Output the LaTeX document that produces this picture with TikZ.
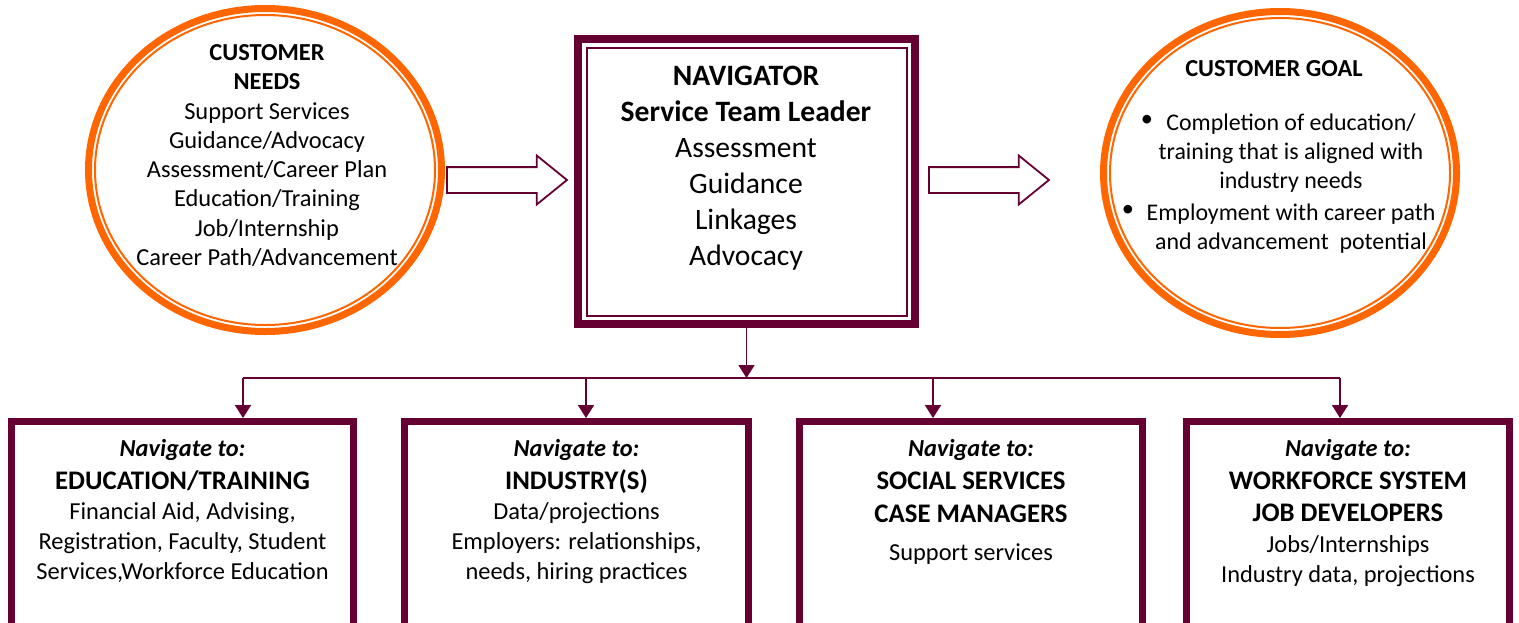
\documentclass[tikz,border=0pt]{standalone}
\usepackage{fontspec}
\setmainfont{Carlito}
\usepackage{tikz}
\usetikzlibrary{arrows.meta, positioning, shapes.geometric, shapes.arrows}
\definecolor{navmaroon}{RGB}{102, 0, 51}
\definecolor{ringorange}{RGB}{255, 102, 0}

\newcommand{\navto}{{\bfseries\itshape Navigate to:}}
\newcommand{\desthead}[1]{{\fontsize{13.4}{15}\selectfont\bfseries #1}}

\begin{document}
\begin{tikzpicture}[
			x=0.5pt, y=-0.5pt,
			ringouter/.style={ellipse, draw=ringorange, line width=3.5pt, inner sep=0pt, minimum width=176.5pt, minimum height=161.5pt},
			ringinner/.style={ellipse, draw=ringorange, line width=1pt, inner sep=0pt, minimum width=170pt, minimum height=155pt},
			navouter/.style={rectangle, draw=navmaroon, line width=4pt, inner sep=0pt, minimum width=168.5pt, minimum height=142.5pt},
			navinner/.style={rectangle, draw=navmaroon, line width=1pt, inner sep=0pt, minimum width=160pt, minimum height=134pt},
			dest/.style={rectangle, draw=navmaroon, line width=3.5pt, inner sep=0pt, minimum height=150pt, anchor=north},
			blockarrow/.style={single arrow, draw=navmaroon, fill=white, line width=0.9pt, inner xsep=0pt, inner ysep=6pt, minimum height=60pt, single arrow head extend=5.75pt, single arrow tip angle=78},
			arrow/.style={-{Triangle[length=6.5pt, width=8pt]}, draw=navmaroon, line width=0.9pt},
			plain/.style={align=center, inner sep=0pt, font=\fontsize{12.2}{14.65}\selectfont},
			desttext/.style={align=center, inner sep=0pt, font=\fontsize{12.2}{15}\selectfont}
		]
		\useasboundingbox (0,0) rectangle (1519,622);
		\clip (0,0) rectangle (1519,622);
		\fill[white] (0,0) rectangle (1519,622);

		% customer needs
		\node[ringouter] (needs) at (265,170) {};
		\node[ringinner] (needsInner) at (needs.center) {};
		\node[plain, anchor=north] (needsText) at (267,44) {\textbf{CUSTOMER}\\\textbf{NEEDS}\\Support Services\\Guidance/Advocacy\\Assessment/Career Plan\\Education/Training\\Job/Internship\\Career Path/Advancement};

		% navigator
		\node[navouter] (nav) at (746.5,181.5) {};
		\node[navinner] (navInner) at (nav.center) {};
		\node[plain, font=\fontsize{14.8}{18}\selectfont, anchor=north] (navText) at (746,66) {\textbf{NAVIGATOR}\\\textbf{Service Team Leader}\\Assessment\\Guidance\\Linkages\\Advocacy};

		% customer goal
		\node[ringouter] (goal) at (1280,173) {};
		\node[ringinner] (goalInner) at (goal.center) {};
		\node[plain, anchor=north] (goalTitle) at (1274,60) {\textbf{CUSTOMER GOAL}};
		\node[plain, font=\fontsize{11.95}{14.5}\selectfont, anchor=north] (goalText) at (1291,113) {Completion of education/\\training that is aligned with\\industry needs\\[1.5pt]Employment with career path\\and advancement\ \ potential};
		\node[plain] (bulletA) at (1147,121) {\textbullet};
		\node[plain] (bulletB) at (1128,211) {\textbullet};

		\node[blockarrow] (toNav) at (499,180) {};
		\node[blockarrow] (toGoal) at (981,180) {};

		% destinations
		\node[dest, minimum width=171pt] (edu) at (182.5,418) {};
		\node[dest, minimum width=172pt] (industry) at (576.5,418) {};
		\node[dest, minimum width=171.5pt] (social) at (971,418) {};
		\node[dest, minimum width=161.5pt] (workforce) at (1348,418) {};

		\node[desttext, below=10.5pt of edu.north] (eduText) {\navto\\[1.5pt]\desthead{EDUCATION/TRAINING}\\Financial Aid, Advising,\\Registration, Faculty, Student\\Services,Workforce Education};
		\node[desttext, below=10.5pt of industry.north] (industryText) {\navto\\[1.5pt]\desthead{INDUSTRY(S)}\\Data/projections\\Employers: relationships,\\needs, hiring practices};
		\node[desttext, below=10.5pt of social.north] (socialText) {\navto\\[1.5pt]\desthead{SOCIAL SERVICES}\\[1.5pt]\desthead{CASE MANAGERS}\\[4pt]Support services};
		\node[desttext, below=10.5pt of workforce.north] (workforceText) {\navto\\[1.5pt]\desthead{WORKFORCE SYSTEM}\\[1pt]\desthead{JOB DEVELOPERS}\\[0.5pt]Jobs/Internships\\Industry data, projections};

		% bus
		\coordinate (bus) at (745,378);
		\coordinate (dropEdu) at (243,378);
		\coordinate (dropIndustry) at (586,378);
		\coordinate (dropSocial) at (933,378);
		\coordinate (dropWork) at (1340,378);

		\draw[arrow] (nav.south) -- (nav.south |- bus);
		\draw[navmaroon, line width=0.9pt] (dropEdu) -- (dropWork);
		\draw[arrow] (dropEdu) -- (dropEdu |- edu.north);
		\draw[arrow] (dropIndustry) -- (dropIndustry |- industry.north);
		\draw[arrow] (dropSocial) -- (dropSocial |- social.north);
		\draw[arrow] (dropWork) -- (dropWork |- workforce.north);
		\end{tikzpicture}
\end{document}
